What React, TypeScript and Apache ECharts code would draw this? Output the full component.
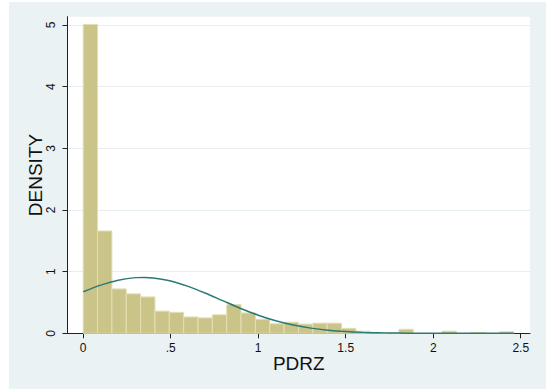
import React, { useEffect, useRef } from "react";
import * as echarts from "echarts";

// Histogram of PDRZ: 30 bins, each BIN_WIDTH wide, starting at 0
const BIN_START = 0;
const BIN_WIDTH = 0.082;
const densities = [
  5.01, 1.66, 0.72, 0.64, 0.59, 0.36, 0.34, 0.265, 0.25, 0.3,
  0.465, 0.33, 0.227, 0.155, 0.18, 0.15, 0.165, 0.165, 0.08, 0.035,
  0.015, 0.006, 0.065, 0, 0, 0.035, 0, 0.012, 0, 0.025,
];

// Fitted normal density overlay, sampled along PDRZ
const curveX = [
  0, 0.1, 0.2, 0.3, 0.35, 0.4, 0.5, 0.6, 0.7, 0.8, 0.9, 1.0, 1.1, 1.2, 1.3,
  1.4, 1.5, 1.6, 1.7, 1.8, 1.9, 2.0, 2.1, 2.2, 2.3, 2.46,
];
const curveY = [
  0.673, 0.781, 0.862, 0.903, 0.906, 0.898, 0.849, 0.761, 0.649, 0.525, 0.403,
  0.294, 0.204, 0.134, 0.084, 0.05, 0.028, 0.015, 0.0076, 0.0037, 0.0017,
  0.0007, 0.0003, 0.0001, 0.00004, 0.00001,
];

// Axis ticks
const xTicks = [0, 0.5, 1, 1.5, 2, 2.5];
const yTicks = [0, 1, 2, 3, 4, 5];
const X_MIN = -0.0897;
const X_MAX = 2.553;
const Y_MIN = 0;
const Y_MAX = 5.135;

const FONT = "'Liberation Sans', Arial, Helvetica, sans-serif";

function fmtX(v: number): string {
  if (v === 0) return "0";
  return String(v).replace(/^0\./, ".");
}

export default function App() {
  const ref = useRef<HTMLDivElement>(null);

  useEffect(() => {
    if (!ref.current) return;
    const chart = echarts.init(ref.current, null, { renderer: "svg" });

    const barData = densities.map((d, i) => [
      BIN_START + i * BIN_WIDTH,
      BIN_START + (i + 1) * BIN_WIDTH,
      d,
    ]);
    const lineData = curveX.map((x, i) => [x, curveY[i]]);

    chart.setOption({
      animation: false,
      backgroundColor: "#eaf2f3",
      textStyle: { fontFamily: FONT },
      grid: {
        left: 58.5,
        top: 14.7,
        right: 16,
        bottom: 55.7,
        show: true,
        backgroundColor: "#ffffff",
        borderWidth: 0,
      },
      xAxis: {
        type: "value",
        min: X_MIN,
        max: X_MAX,
        name: "PDRZ",
        nameLocation: "middle",
        nameGap: 21,
        nameMoveOverlap: false,
        nameTextStyle: { fontSize: 19, color: "#111", fontFamily: FONT },
        axisLine: { show: true, onZero: false, lineStyle: { color: "#222", width: 1 } },
        axisTick: {
          show: true,
          length: 5,
          customValues: xTicks,
          lineStyle: { color: "#222", width: 1 },
        },
        axisLabel: {
          customValues: xTicks,
          formatter: (v: number) => fmtX(v),
          fontSize: 12,
          color: "#111",
          margin: 9,
          fontFamily: FONT,
        },
        splitLine: { show: false },
      },
      yAxis: {
        type: "value",
        min: Y_MIN,
        max: Y_MAX,
        name: "DENSITY",
        nameLocation: "middle",
        nameRotate: 90,
        nameGap: 23,
        nameMoveOverlap: false,
        nameTextStyle: { fontSize: 19, color: "#111", fontFamily: FONT },
        axisLine: { show: true, onZero: false, lineStyle: { color: "#222", width: 1 } },
        axisTick: {
          show: true,
          length: 5,
          customValues: yTicks,
          lineStyle: { color: "#222", width: 1 },
        },
        axisLabel: {
          customValues: yTicks,
          rotate: 90,
          fontSize: 12,
          color: "#111",
          margin: 11,
          fontFamily: FONT,
        },
        splitLine: { show: true, lineStyle: { color: "#e6eef0", width: 1 } },
      },
      series: [
        {
          type: "custom",
          name: "histogram",
          data: barData,
          encode: { x: [0, 1], y: 2 },
          z: 2,
          renderItem: (params: any, api: any) => {
            const x0 = api.value(0);
            const x1 = api.value(1);
            const h = api.value(2);
            if (!(h > 0)) return null;
            const p0 = api.coord([x0, h]);
            const p1 = api.coord([x1, 0]);
            return {
              type: "rect",
              shape: {
                x: p0[0],
                y: p0[1],
                width: p1[0] - p0[0],
                height: p1[1] - p0[1],
              },
              style: {
                fill: "#cac489",
                stroke: "#e3dfb4",
                lineWidth: 1,
              },
            };
          },
        },
        {
          type: "line",
          name: "normal",
          data: lineData,
          smooth: 0.3,
          showSymbol: false,
          symbol: "none",
          z: 3,
          lineStyle: { color: "#2a7a75", width: 1.5 },
        },
      ],
    });

    return () => chart.dispose();
  }, []);

  return (
    <div
      style={{
        position: "absolute",
        left: 0,
        top: 0,
        width: 546,
        height: 389,
        background: "#ffffff",
      }}
    >
      <div
        ref={ref}
        style={{ position: "absolute", left: 9, top: 2, width: 537, height: 387 }}
      />
    </div>
  );
}
